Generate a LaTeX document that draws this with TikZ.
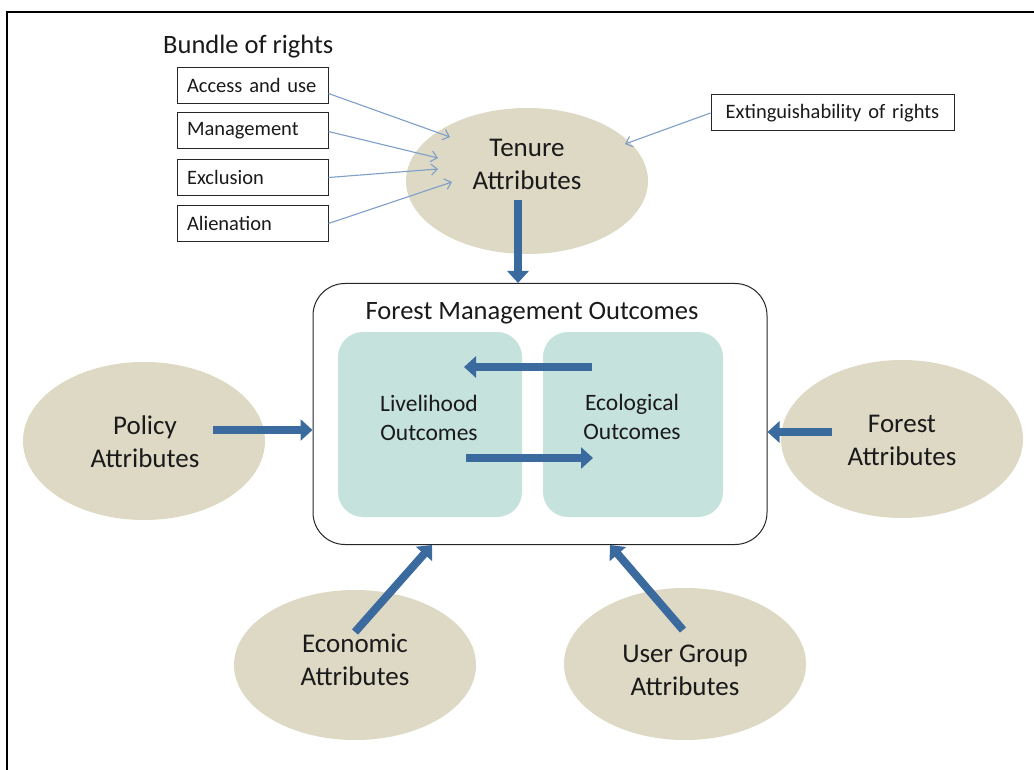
\documentclass[tikz,border=0pt]{standalone}
\usepackage{fontspec}
\setmainfont{Carlito}
\usetikzlibrary{arrows.meta,shapes.geometric,calc}
\definecolor{tanfill}{HTML}{DDD9C4}
\definecolor{tealfill}{HTML}{C6E2DC}
\definecolor{arrowblue}{HTML}{3A6A9E}
\definecolor{thinblue}{HTML}{7E9FC8}
\definecolor{txt}{HTML}{1A1A1A}
\begin{document}
\begin{tikzpicture}[x=1pt,y=-1pt,
  ell/.style={ellipse, fill=tanfill, inner sep=0pt, minimum width=242pt, minimum height=150pt},
  elltext/.style={align=center, text=txt, font=\fontsize{27}{33}\selectfont, inner sep=0pt},
  rightbox/.style={draw=black!85, line width=1pt, inner xsep=10pt, inner ysep=0pt, minimum height=36pt, text width=131pt, align=left, text=txt, font=\fontsize{20.5}{24}\selectfont},
  thinarrow/.style={draw=thinblue, line width=1.1pt, -{Straight Barb[length=6pt,width=11pt]}},
  thickarrow/.style={draw=arrowblue, line width=8pt, -{Triangle[length=12pt,width=21pt]}},
  innerbox/.style={fill=tealfill, rounded corners=25pt, inner sep=0pt, minimum height=185pt},
  innertext/.style={align=center, text=txt, font=\fontsize{23.5}{29.5}\selectfont, inner sep=0pt}
]
\useasboundingbox (0,0) rectangle (1034,770);
\fill[white] (0,0) rectangle (1034,770);
% outer frame
\draw[line width=2.5pt] (7,772) -- (7,12) -- (1040,12);

% bundle of rights
\node[anchor=west, text=txt, font=\fontsize{26.5}{30}\selectfont, inner sep=0pt] (bundle) at (163,47) {Bundle of rights};
\node[rightbox] (b1) at (252.5,85.5) {Access and use};
\node[rightbox] (b2) at (252.5,130.5) {Management};
\node[rightbox] (b3) at (252.5,177.5) {Exclusion};
\node[rightbox] (b4) at (252.5,223.5) {Alienation};
\node[rightbox, text width=223pt, align=center] (ext) at (832.5,113) {Extinguishability of rights};

% ellipses
\node[ell, minimum height=146pt] (ten) at (527,181) {};
\node[elltext] (tenT) at (527,164) {Tenure\\Attributes};
\node[ell, minimum height=158pt] (pol) at (144,441) {};
\node[elltext] (polT) at (145,442) {Policy\\Attributes};
\node[ell, minimum height=158pt] (for) at (902,439) {};
\node[elltext] (forT) at (902,440) {Forest\\Attributes};
\node[ell] (eco) at (355,665) {};
\node[elltext] (ecoT) at (355,660) {Economic\\Attributes};
\node[ell, minimum height=152pt] (usr) at (685,664) {};
\node[elltext] (usrT) at (685,670) {User Group\\Attributes};

% thin arrows
\coordinate (t1) at (450,137);
\coordinate (t2) at (438,158);
\coordinate (t3) at (438,169);
\coordinate (t4) at (452,182);
\coordinate (t5) at (625,144);
\draw[thinarrow] ([yshift=-8pt]b1.east) -- (t1);
\draw[thinarrow] ([yshift=-1pt]b2.east) -- (t2);
\draw[thinarrow] (b3.east) -- (t3);
\draw[thinarrow] (b4.east) -- (t4);
\draw[thinarrow] (ext.west) -- (t5);

% forest management outcomes
\node[draw=black!85, line width=1pt, rounded corners=32pt, inner sep=0pt, minimum width=454pt, minimum height=261pt] (fmo) at (540,414) {};
\node[text=txt, font=\fontsize{26.5}{30}\selectfont, inner sep=0pt] (fmoT) at (532,313) {Forest Management Outcomes};
\node[innerbox, minimum width=184pt] (liv) at (430,424.5) {};
\node[innerbox, minimum width=180pt] (ecl) at (633,424.5) {};
\node[innertext] (livT) at (429,418) {Livelihood\\Outcomes};
\node[innertext] (eclT) at (632,417) {Ecological\\Outcomes};

% thick arrows
\coordinate (tA) at (518,200);
\draw[thickarrow] (tA) -- (tA |- fmo.north);
\coordinate (pA) at (213,430);
\draw[thickarrow] (pA) -- (pA -| fmo.west);
\coordinate (fA) at (832,432);
\draw[thickarrow] (fA) -- (fA -| fmo.east);
\coordinate (eA) at (355,632);
\coordinate (eB) at (432,545);
\draw[thickarrow] (eA) -- (eB);
\coordinate (uA) at (683,630);
\coordinate (uB) at (610,545);
\draw[thickarrow] (uA) -- (uB);
\coordinate (ecA) at (592,367);
\coordinate (lvB) at (464,367);
\draw[thickarrow] (ecA) -- (lvB);
\coordinate (lvA) at (466,458);
\coordinate (ecB) at (593,458);
\draw[thickarrow] (lvA) -- (ecB);
\end{tikzpicture}
\end{document}
